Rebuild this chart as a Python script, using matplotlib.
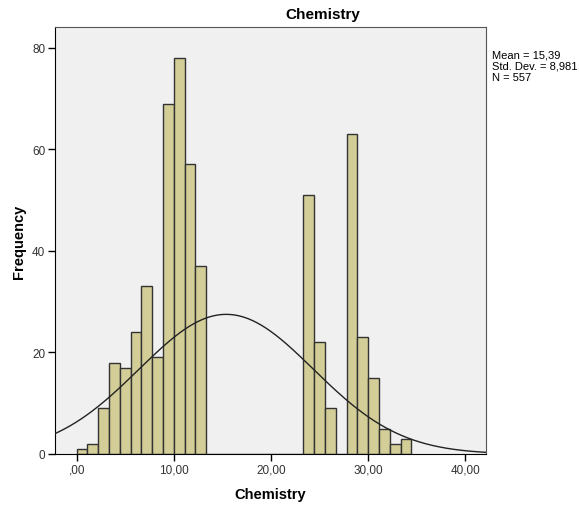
import numpy as np
import matplotlib
matplotlib.use('Agg')
import matplotlib.pyplot as plt

plt.rcParams['font.family'] = ['Liberation Sans', 'DejaVu Sans']

# histogram counts, one per bin (bin width 10/9 starting at 0)
bin_width = 10 / 9
counts = [1, 2, 9, 18, 17, 24, 33, 19, 69, 78, 57, 37,
          0, 0, 0, 0, 0, 0, 0, 0, 0,
          51, 22, 9,
          0,
          63, 23, 15, 5, 2, 3]

mean = 15.39
std = 8.981
n = 557

xticks = [0, 10, 20, 30, 40]
xtick_labels = [',00', '10,00', '20,00', '30,00', '40,00']
yticks = [0, 20, 40, 60, 80]

edges = np.arange(len(counts)) * bin_width

fig = plt.figure(figsize=(5.79, 5.06), dpi=100)
ax = fig.add_axes([0.095, 0.1008, 0.744, 0.8432])
ax.set_facecolor('#F0F0F0')

ax.bar(edges, counts, width=bin_width, align='edge',
       color='#D3CE97', edgecolor='#333333', linewidth=1.0, zorder=2)

# normal curve scaled to the histogram
xs = np.linspace(-2.3, 42.2, 400)
ys = n * bin_width / (std * np.sqrt(2 * np.pi)) * np.exp(-0.5 * ((xs - mean) / std) ** 2)
ax.plot(xs, ys, color='#222222', linewidth=1.0, zorder=3)

ax.set_xlim(-2.23, 42.1)
ax.set_ylim(0, 84)
ax.set_xticks(xticks)
ax.set_xticklabels(xtick_labels)
ax.set_yticks(yticks)
ax.tick_params(direction='out', length=5, width=1, labelsize=8.5, pad=2,
               colors='black', labelcolor='#333333')

for side in ['top', 'right']:
    ax.spines[side].set_color('#555555')
for side in ['left', 'bottom']:
    ax.spines[side].set_color('black')

ax.set_xlabel('Chemistry', fontsize=10.5, fontweight='bold')
ax.xaxis.set_label_coords(0.5, -0.077)
ax.set_ylabel('Frequency', fontsize=10.5, fontweight='bold')
ax.yaxis.set_label_coords(-0.068, 0.5)

fig.text(0.558, 1 - 15 / 506, 'Chemistry', ha='center', va='center',
         fontsize=11, fontweight='bold')

stats = 'Mean = {}\nStd. Dev. = {}\nN = {}'.format(
    str(mean).replace('.', ','), str(std).replace('.', ','), n)
fig.text(492 / 579, 1 - 50 / 506, stats, ha='left', va='top',
         fontsize=8, linespacing=1.2)

fig.savefig('out.png', dpi=100)
